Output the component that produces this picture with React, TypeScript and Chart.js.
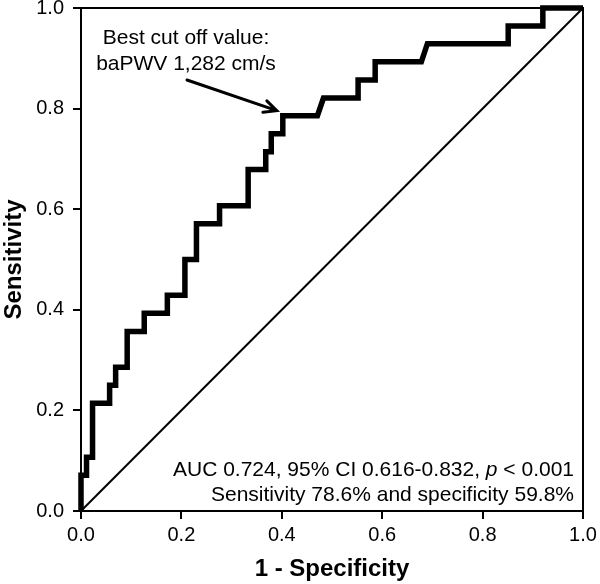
import React, { useEffect, useRef } from "react";
import { Chart, registerables } from "chart.js";

Chart.register(...registerables);

// ROC curve coordinates (1 - specificity, sensitivity)
const fpr = [0, 0, 0.011, 0.011, 0.023, 0.023, 0.057, 0.057, 0.069, 0.069, 0.092, 0.092, 0.126, 0.126, 0.172, 0.172, 0.207, 0.207, 0.23, 0.23, 0.276, 0.276, 0.333, 0.333, 0.368, 0.368, 0.379, 0.379, 0.402, 0.402, 0.471, 0.483, 0.552, 0.552, 0.586, 0.586, 0.678, 0.69, 0.851, 0.851, 0.92, 0.92, 1.0];
const sens = [0, 0.071, 0.071, 0.107, 0.107, 0.214, 0.214, 0.25, 0.25, 0.286, 0.286, 0.357, 0.357, 0.393, 0.393, 0.429, 0.429, 0.5, 0.5, 0.571, 0.571, 0.607, 0.607, 0.679, 0.679, 0.714, 0.714, 0.75, 0.75, 0.786, 0.786, 0.821, 0.821, 0.857, 0.857, 0.893, 0.893, 0.929, 0.929, 0.964, 0.964, 1.0, 1.0];
const refX = [0, 1];
const refY = [0, 1];
const bestCut = { x: 0.402, y: 0.786 };
const tickValues = [0, 0.2, 0.4, 0.6, 0.8, 1.0];
const xTitle = "1 - Specificity";
const yTitle = "Sensitivity";
const cutLabel = ["Best cut off value:", "baPWV 1,282 cm/s"];
const aucParts = [
  { t: "AUC 0.724, 95% CI 0.616-0.832, ", i: false },
  { t: "p", i: true },
  { t: " < 0.001", i: false },
];
const sensSpecText = "Sensitivity 78.6% and specificity 59.8%";

const FONT = "Arial, 'Liberation Sans', sans-serif";
const TXT = 21;

const annotationPlugin = {
  id: "annot",
  afterDraw(chart: any) {
    const { ctx, chartArea, scales } = chart;
    ctx.save();
    // frame top & right
    ctx.strokeStyle = "#000";
    ctx.lineWidth = 2;
    ctx.beginPath();
    ctx.moveTo(chartArea.left, chartArea.top);
    ctx.lineTo(chartArea.right, chartArea.top);
    ctx.lineTo(chartArea.right, chartArea.bottom);
    ctx.stroke();

    ctx.fillStyle = "#000";
    ctx.font = `${TXT}px ${FONT}`;
    ctx.textAlign = "center";
    ctx.textBaseline = "alphabetic";
    ctx.fillText(cutLabel[0], 186, 44);
    ctx.fillText(cutLabel[1], 186, 70);

    // arrow
    const px = scales.x.getPixelForValue(bestCut.x);
    const py = scales.y.getPixelForValue(bestCut.y);
    const tx = px - 6;
    const ty = py - 5;
    const sx = 187;
    const sy = 80;
    ctx.lineWidth = 3;
    ctx.lineCap = "round";
    ctx.beginPath();
    ctx.moveTo(sx, sy);
    ctx.lineTo(tx, ty);
    const ang = Math.atan2(ty - sy, tx - sx);
    const L = 14;
    const a = 0.45;
    ctx.moveTo(tx - L * Math.cos(ang - a), ty - L * Math.sin(ang - a));
    ctx.lineTo(tx, ty);
    ctx.lineTo(tx - L * Math.cos(ang + a), ty - L * Math.sin(ang + a));
    ctx.stroke();

    // bottom-right text
    const right = 574;
    ctx.textAlign = "left";
    let total = 0;
    const widths = aucParts.map((p) => {
      ctx.font = `${p.i ? "italic " : ""}${TXT}px ${FONT}`;
      const w = ctx.measureText(p.t).width;
      total += w;
      return w;
    });
    let x = right - total;
    aucParts.forEach((p, k) => {
      ctx.font = `${p.i ? "italic " : ""}${TXT}px ${FONT}`;
      ctx.fillText(p.t, x, 476);
      x += widths[k];
    });
    ctx.font = `${TXT}px ${FONT}`;
    ctx.textAlign = "right";
    ctx.fillText(sensSpecText, right, 501);
    ctx.restore();
  },
};

export default function App() {
  const ref = useRef<HTMLCanvasElement | null>(null);
  useEffect(() => {
    if (!ref.current) return;
    const chart = new Chart(ref.current, {
      type: "line",
      data: {
        datasets: [
          {
            data: refX.map((v, i) => ({ x: v, y: refY[i] })),
            borderColor: "#000",
            borderWidth: 2,
            pointRadius: 0,
            fill: false,
            tension: 0,
          },
          {
            data: fpr.map((v, i) => ({ x: v, y: sens[i] })),
            borderColor: "#000",
            borderWidth: 5.5,
            pointRadius: 0,
            fill: false,
            tension: 0,
            borderJoinStyle: "miter",
            clip: false,
          } as any,
        ],
      },
      plugins: [annotationPlugin],
      options: {
        animation: false,
        responsive: false,
        devicePixelRatio: 1,
        layout: { padding: { top: 8, right: 17, left: 0, bottom: 0 } },
        plugins: { legend: { display: false }, tooltip: { enabled: false } },
        scales: {
          x: {
            type: "linear",
            min: 0,
            max: 1,
            afterBuildTicks: (s: any) => {
              s.ticks = tickValues.map((v) => ({ value: v }));
            },
            afterFit: (s: any) => {
              s.height = 73;
              s.paddingLeft = 0;
              s.paddingRight = 0;
            },
            ticks: {
              color: "#000",
              font: { family: FONT, size: 20 },
              padding: 4,
              maxRotation: 0,
              autoSkip: false,
              callback: (v: any) => Number(v).toFixed(1),
            },
            grid: { drawOnChartArea: false, drawTicks: true, tickLength: 8, color: "#000", lineWidth: 2 },
            border: { display: true, color: "#000", width: 2 },
            title: {
              display: true,
              text: xTitle,
              color: "#000",
              font: { family: FONT, size: 24, weight: "bold" },
              padding: { top: 0, bottom: 0 },
            },
          },
          y: {
            type: "linear",
            min: 0,
            max: 1,
            afterBuildTicks: (s: any) => {
              s.ticks = tickValues.map((v) => ({ value: v }));
            },
            afterFit: (s: any) => {
              s.width = 81;
              s.paddingTop = 0;
              s.paddingBottom = 0;
            },
            ticks: {
              color: "#000",
              font: { family: FONT, size: 20 },
              padding: 9,
              autoSkip: false,
              callback: (v: any) => Number(v).toFixed(1),
            },
            grid: { drawOnChartArea: false, drawTicks: true, tickLength: 8, color: "#000", lineWidth: 2 },
            border: { display: true, color: "#000", width: 2 },
            title: {
              display: true,
              text: yTitle,
              color: "#000",
              font: { family: FONT, size: 24, weight: "bold" },
              padding: { top: 0, bottom: 0 },
            },
          },
        },
      },
    } as any);
    return () => chart.destroy();
  }, []);
  return (
    <div style={{ position: "absolute", left: 0, top: 0, width: 600, height: 584, background: "#fff" }}>
      <canvas ref={ref} width={600} height={584} style={{ display: "block" }} />
    </div>
  );
}
